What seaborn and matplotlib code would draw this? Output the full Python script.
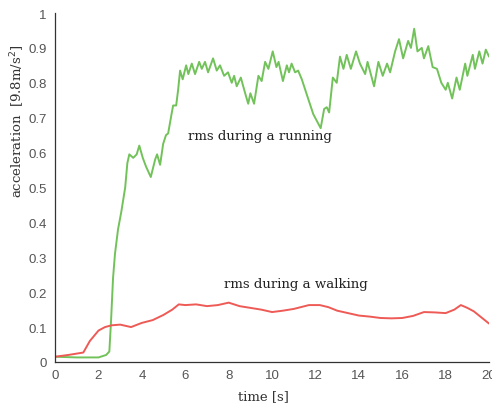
import numpy as np
import pandas as pd
import matplotlib
matplotlib.use('Agg')
import matplotlib.pyplot as plt
import seaborn as sns

sns.set_style('white')
plt.rcParams['font.family'] = ['Liberation Sans', 'DejaVu Sans']

# --- data ---
run_t = [0, 1.0, 2.0, 2.35, 2.5, 2.58, 2.67, 2.76, 2.9, 3.05, 3.23, 3.33, 3.42,
         3.6, 3.76, 3.88, 4.04, 4.19, 4.41, 4.61, 4.7, 4.84, 4.98, 5.11, 5.21,
         5.38, 5.44, 5.58, 5.67, 5.76, 5.88, 6.04, 6.14, 6.3, 6.45, 6.64, 6.76,
         6.91, 7.05, 7.28, 7.45, 7.6, 7.79, 7.97, 8.14, 8.25, 8.37, 8.56, 8.76,
         8.9, 9.0, 9.17, 9.37, 9.52, 9.68, 9.83, 10.03, 10.2, 10.3, 10.5, 10.68,
         10.78, 10.9, 11.06, 11.2, 11.37, 11.66, 11.9, 12.07, 12.24, 12.4, 12.52,
         12.63, 12.8, 12.98, 13.13, 13.29, 13.44, 13.63, 13.87, 14.05, 14.29,
         14.4, 14.7, 14.9, 15.1, 15.3, 15.44, 15.67, 15.85, 16.04, 16.27, 16.4,
         16.55, 16.7, 16.9, 17.0, 17.2, 17.4, 17.6, 17.8, 18.0, 18.1, 18.3, 18.5,
         18.65, 18.9, 19.0, 19.25, 19.35, 19.55, 19.7, 19.85, 20.0]
run_acc = [0.015, 0.013, 0.013, 0.02, 0.03, 0.12, 0.24, 0.31, 0.38, 0.43, 0.5,
           0.57, 0.595, 0.585, 0.595, 0.62, 0.585, 0.56, 0.53, 0.58, 0.595,
           0.565, 0.625, 0.65, 0.655, 0.715, 0.735, 0.735, 0.78, 0.835, 0.81,
           0.85, 0.825, 0.855, 0.825, 0.86, 0.84, 0.86, 0.83, 0.87, 0.835, 0.85,
           0.82, 0.83, 0.80, 0.82, 0.79, 0.815, 0.77, 0.74, 0.77, 0.74, 0.82,
           0.805, 0.86, 0.84, 0.89, 0.845, 0.86, 0.805, 0.85, 0.83, 0.855, 0.83,
           0.835, 0.81, 0.755, 0.71, 0.69, 0.67, 0.725, 0.73, 0.715, 0.815, 0.80,
           0.875, 0.84, 0.88, 0.84, 0.89, 0.855, 0.825, 0.86, 0.79, 0.86, 0.82,
           0.855, 0.83, 0.89, 0.925, 0.87, 0.92, 0.90, 0.955, 0.89, 0.90, 0.87,
           0.905, 0.845, 0.84, 0.80, 0.78, 0.80, 0.755, 0.815, 0.78, 0.855, 0.82,
           0.88, 0.84, 0.89, 0.855, 0.895, 0.875]

walk_t = [0, 0.6, 1.3, 1.6, 2.0, 2.3, 2.6, 3.0, 3.5, 4.0, 4.5, 5.0, 5.4, 5.7,
          6.0, 6.5, 7.0, 7.5, 8.0, 8.5, 9.0, 9.5, 10.0, 10.5, 11.0, 11.7, 12.2,
          12.6, 13.0, 13.5, 14.0, 14.5, 15.0, 15.5, 16.0, 16.5, 17.0, 17.5, 18.0,
          18.4, 18.7, 19.0, 19.3, 19.7, 20.0]
walk_acc = [0.015, 0.02, 0.027, 0.06, 0.09, 0.1, 0.105, 0.107, 0.10, 0.112,
            0.12, 0.135, 0.15, 0.165, 0.163, 0.165, 0.16, 0.163, 0.17, 0.16,
            0.155, 0.15, 0.143, 0.147, 0.152, 0.163, 0.163, 0.157, 0.147, 0.14,
            0.133, 0.13, 0.126, 0.125, 0.126, 0.132, 0.143, 0.142, 0.14, 0.15,
            0.163, 0.155, 0.145, 0.125, 0.11]

x_ticks = list(range(0, 21, 2))
y_ticks = [0, 0.1, 0.2, 0.3, 0.4, 0.5, 0.6, 0.7, 0.8, 0.9, 1]
y_tick_labels = ['0', '0.1', '0.2', '0.3', '0.4', '0.5', '0.6', '0.7', '0.8', '0.9', '1']

run_df = pd.DataFrame({'t': run_t, 'acc': run_acc})
walk_df = pd.DataFrame({'t': walk_t, 'acc': walk_acc})

fig = plt.figure(figsize=(4.92, 4.06), dpi=100)
ax = fig.add_axes([0.112, 0.106, 0.882, 0.8595])

sns.lineplot(data=run_df, x='t', y='acc', ax=ax, color='#72c25a', lw=1.4)
sns.lineplot(data=walk_df, x='t', y='acc', ax=ax, color='#ee5a55', lw=1.4)

ax.set_xlim(0, 20)
ax.set_ylim(0, 1)
ax.set_xticks(x_ticks)
ax.set_yticks(y_ticks)
ax.set_yticklabels(y_tick_labels)
ax.tick_params(direction='in', length=4, width=0.8, colors='#333333',
               labelsize=9.5, labelcolor='#555555')
ax.tick_params(axis='x', pad=5)
ax.tick_params(axis='y', pad=6)
for side in ['top', 'right']:
    ax.spines[side].set_visible(False)
for side in ['left', 'bottom']:
    ax.spines[side].set_color('#333333')
    ax.spines[side].set_linewidth(0.9)

ax.set_xlabel('')
ax.set_ylabel('')
fig.text(0.535, 0.022, 'time [s]', ha='center', va='center',
         family='DejaVu Serif', fontsize=9.5, color='#333333')
fig.text(0.036, 0.702, 'acceleration  [9.8m/s$^2$]', rotation=90, ha='center', va='center',
         family='DejaVu Serif', fontsize=9.5, color='#333333')

ax.text(9.45, 0.648, 'rms during a running', ha='center', va='center',
        family='DejaVu Serif', fontsize=9.5, color='#222222')
ax.text(11.1, 0.225, 'rms during a walking', ha='center', va='center',
        family='DejaVu Serif', fontsize=9.5, color='#222222')

fig.savefig('out.png', dpi=100)
